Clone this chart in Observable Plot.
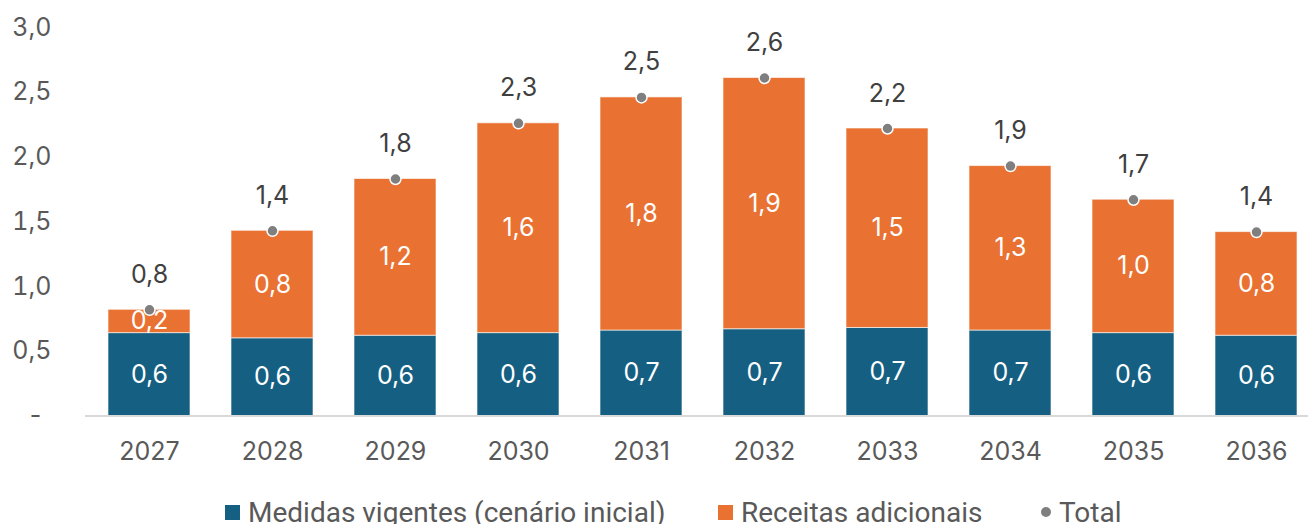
<!DOCTYPE html>
<html><head><meta charset="utf-8">
<script src="https://cdn.jsdelivr.net/npm/d3@7"></script>
<script src="https://cdn.jsdelivr.net/npm/@observablehq/plot@0.6"></script>
<style>
body{margin:0;background:#fff;font-family:Inter,"Open Sans",sans-serif;overflow:hidden;}
#legend{position:relative;height:34px;font-family:"Roboto",sans-serif;font-size:28px;color:#595959;}
.item{position:absolute;top:5px;display:flex;align-items:center;height:34px;white-space:nowrap;}
.sw{width:15px;height:15px;margin-right:8px;}
.dt{width:10px;height:10px;border-radius:50%;background:#7f7f7f;margin-right:8px;}
</style></head>
<body>
<div id="chart"></div>
<div id="legend"></div>
<script>
const years = [2027, 2028, 2029, 2030, 2031, 2032, 2033, 2034, 2035, 2036];
const vigentes = [0.64, 0.60, 0.62, 0.64, 0.66, 0.67, 0.68, 0.66, 0.64, 0.62];
const adicionais = [0.18, 0.83, 1.21, 1.62, 1.80, 1.94, 1.54, 1.27, 1.03, 0.80];
const seriesNames = ["Medidas vigentes (cenário inicial)", "Receitas adicionais", "Total"];
const seriesColors = ["#156082", "#E97132", "#7f7f7f"];
const yTicks = [0.5, 1, 1.5, 2, 2.5, 3];
const zeroTick = [{v: 0, label: "-"}];

const fmt = v => d3.format(".1f")(v).replace(".", ",");
const rows = years.flatMap((y, i) => [
  {year: y, series: seriesNames[0], value: vigentes[i]},
  {year: y, series: seriesNames[1], value: adicionais[i]}
]);
const totals = years.map((y, i) => ({year: y, total: vigentes[i] + adicionais[i]}));
const FS = 25;

const chart = Plot.plot({
  width: 1308, height: 490,
  marginLeft: 85, marginRight: 0, marginTop: 27, marginBottom: 74.5,
  style: {fontFamily: "Inter, 'Open Sans', sans-serif", fontSize: FS + "px"},
  x: {type: "band", domain: years, range: [85, 1319], paddingInner: 0.335, paddingOuter: 0.17, align: 0.5, label: null},
  y: {domain: [0, 3], label: null},
  color: {domain: seriesNames.slice(0, 2), range: seriesColors.slice(0, 2)},
  marks: [
    Plot.barY(rows, {x: "year", y: "value", fill: "series", stroke: "white", strokeOpacity: 0.6, strokeWidth: 1}),
    Plot.ruleY([0], {stroke: "#d9d9d9", strokeWidth: 2}),
    Plot.text(rows, Plot.stackY({x: "year", y: "value", z: "series", text: d => fmt(d.value), fill: "white", fontSize: FS})),
    Plot.dot(totals, {x: "year", y: "total", r: 5.5, fill: seriesColors[2], stroke: "white", strokeWidth: 1.5}),
    Plot.text(totals, {x: "year", y: "total", dy: -35, text: d => fmt(d.total), fill: "#404040", fontSize: FS}),
    Plot.axisY({ticks: yTicks, tickSize: 0, tickPadding: 34, label: null, tickFormat: fmt, fill: "#595959", fontSize: FS}),
    Plot.text(zeroTick, {y: "v", text: "label", frameAnchor: "left", dx: -50, textAnchor: "middle", fill: "#595959", fontSize: FS}),
    Plot.axisX({tickSize: 0, tickPadding: 26, label: null, tickFormat: d => String(d), fill: "#595959", fontSize: FS})
  ]
});
document.getElementById("chart").appendChild(chart);

const lg = document.getElementById("legend");
const lefts = [225, 718, 1041];
seriesNames.forEach((n, i) => {
  const it = document.createElement("div");
  it.className = "item";
  it.style.left = lefts[i] + "px";
  const s = document.createElement("div");
  if (i < 2) { s.className = "sw"; s.style.background = seriesColors[i]; }
  else { s.className = "dt"; }
  it.appendChild(s);
  const t = document.createElement("span");
  t.textContent = n;
  it.appendChild(t);
  lg.appendChild(it);
});
</script>
</body></html>
